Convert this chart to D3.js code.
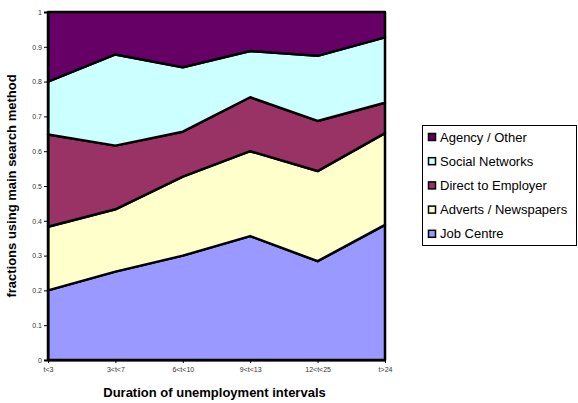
<!DOCTYPE html>
<html>
<head>
<meta charset="utf-8">
<script src="https://cdn.jsdelivr.net/npm/d3@7"></script>
<style>
    body { margin: 0; background: #fff; }
    svg { font-family: Arial, "Liberation Sans", sans-serif; }
</style>
</head>
<body>
<div id="chart"></div>
<script>
// categories and series (fractions)
var categories = ['t<3', '3<t<7', '6<t<10', '9<t<13', '12<t<25', 't>24']
var seriesNames = ['Job Centre', 'Adverts / Newspapers', 'Direct to Employer', 'Social Networks', 'Agency / Other']
var jobCentre = [0.200, 0.254, 0.300, 0.356, 0.284, 0.388]
var adverts = [0.183, 0.179, 0.227, 0.244, 0.259, 0.264]
var direct = [0.265, 0.183, 0.129, 0.155, 0.144, 0.087]
var social = [0.152, 0.262, 0.185, 0.133, 0.187, 0.188]
var agency = [0.200, 0.122, 0.159, 0.112, 0.126, 0.073]
var yTicks = [0, 0.1, 0.2, 0.3, 0.4, 0.5, 0.6, 0.7, 0.8, 0.9, 1]
var colors = ['#9999ff', '#ffffcc', '#993366', '#ccffff', '#660066']

var allSeries = [jobCentre, adverts, direct, social, agency]
var table = categories.map(function (c, i) {
    var row = { cat: c }
    seriesNames.forEach(function (s, j) { row[s] = allSeries[j][i] })
    return row
})

var width = 578, height = 403
var plotLeft = 48, plotRight = 385, plotTop = 12, plotBottom = 360

var svg = d3.select('#chart').append('svg')
    .attr('width', width)
    .attr('height', height)

var x = d3.scalePoint().domain(categories).range([plotLeft, plotRight])
var y = d3.scaleLinear().domain([0, 1]).range([plotBottom, plotTop])

var stacked = d3.stack().keys(seriesNames)(table)

var area = d3.area()
    .x(function (d) { return x(d.data.cat) })
    .y0(function (d) { return y(d[0]) })
    .y1(function (d) { return y(d[1]) })

svg.append('g')
    .selectAll('path')
    .data(stacked)
    .join('path')
    .attr('d', area)
    .attr('fill', function (d, i) { return colors[i] })
    .attr('stroke', '#000')
    .attr('stroke-width', 2.5)
    .attr('stroke-linejoin', 'round')

// y axis
var yAxis = svg.append('g')
    .attr('transform', 'translate(' + plotLeft + ',0)')
    .call(d3.axisLeft(y).tickValues(yTicks).tickSize(4).tickFormat(d3.format('~g')))
yAxis.select('.domain').attr('stroke', '#000').attr('stroke-width', 2)
yAxis.selectAll('.tick line').attr('stroke', '#000')
yAxis.selectAll('text').attr('font-size', '7px').attr('fill', '#333').attr('x', -6)

// x axis
var xAxis = svg.append('g')
    .attr('transform', 'translate(0,' + plotBottom + ')')
    .call(d3.axisBottom(x).tickSize(3).tickSizeOuter(0))
xAxis.select('.domain').attr('stroke', '#000').attr('stroke-width', 2)
xAxis.selectAll('.tick line').attr('stroke', '#000')
xAxis.selectAll('text').attr('font-size', '7px').attr('fill', '#333').attr('dy', '0.9em')

// titles
svg.append('text')
    .attr('x', (plotLeft + plotRight) / 2 - 2)
    .attr('y', 397)
    .attr('text-anchor', 'middle')
    .attr('font-size', '13px')
    .attr('font-weight', 'bold')
    .text('Duration of unemployment intervals')

svg.append('text')
    .attr('transform', 'translate(16,' + (plotTop + plotBottom) / 2 + ') rotate(-90)')
    .attr('text-anchor', 'middle')
    .attr('font-size', '13px')
    .attr('font-weight', 'bold')
    .text('fractions using main search method')

// legend
var legend = svg.append('g')
legend.append('rect')
    .attr('x', 422.5).attr('y', 125.5)
    .attr('width', 154).attr('height', 120)
    .attr('fill', '#fff').attr('stroke', '#000')

var legendOrder = seriesNames.slice().reverse()
var legendColors = colors.slice().reverse()
var item = legend.selectAll('g.item')
    .data(legendOrder)
    .join('g')
    .attr('class', 'item')
    .attr('transform', function (d, i) { return 'translate(428,' + (137 + i * 24.2) + ')' })

item.append('rect')
    .attr('x', 0.5).attr('y', -3.5)
    .attr('width', 7).attr('height', 7)
    .attr('fill', function (d, i) { return legendColors[i] })
    .attr('stroke', '#000')
    .attr('stroke-width', 1.5)

item.append('text')
    .attr('x', 12)
    .attr('dy', '0.35em')
    .attr('font-size', '13px')
    .text(function (d) { return d })
</script>
</body>
</html>
